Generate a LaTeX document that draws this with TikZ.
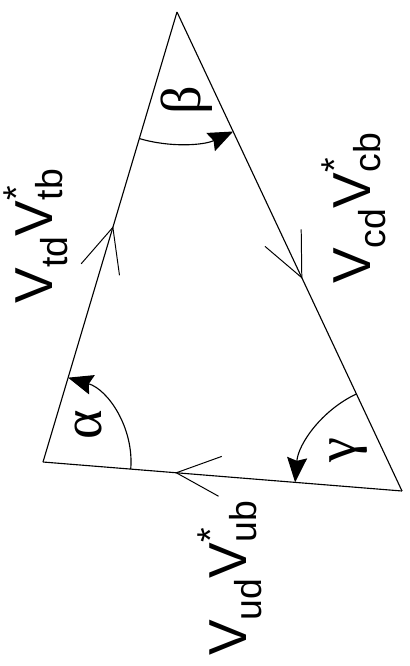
\documentclass[tikz,border=0pt]{standalone}
\usepackage{amsmath}
\usepackage{fontspec}
\setmainfont{Liberation Sans}
\newfontfamily\greekfont{Liberation Serif}
\usetikzlibrary{angles, arrows.meta, decorations.markings}

\begin{document}
\begin{tikzpicture}[x=0.025cm, y=-0.025cm,
    side/.style={line width=0.8pt},
    flow/.style={side, postaction={decorate}, decoration={markings, mark=at position #1 with {\arrow{Straight Barb[length=1.1cm, width=1.0cm, line width=0.7pt]}}}},
    anglearc/.style={draw, line width=0.8pt, -{Stealth[length=0.62cm, width=0.5cm, inset=0.08cm]}},
    ckm/.style={rotate=90, font=\fontsize{38}{40}\selectfont, inner sep=0pt},
    greek/.style={rotate=90, font=\fontsize{40}{42}\selectfont\greekfont, inner sep=0pt}
]
\useasboundingbox (0,0) rectangle (409,666);

% Corners of the triangle
\coordinate (A) at (43,462);
\coordinate (T) at (177,12);
\coordinate (C) at (402,491);

% Sides, each with its direction
\draw[flow=0.524] (A) -- (T);
\draw[flow=0.557] (T) -- (C);
\draw[flow=0.632] (C) -- (A);

% Angles
\pic[anglearc, angle radius=3.3cm] {angle = A--T--C};
\pic[anglearc, angle radius=2.2cm] {angle = C--A--T};
\pic[anglearc, angle radius=2.68cm] {angle = T--C--A};

\node[greek] (beta) at (187,100) {β};
\node[greek] (alpha) at (89,425) {α};
\node[greek] (gamma) at (349,450) {γ};

% Side labels
\node[ckm] (tdtb) at (36,236) {$\text{V}_{\text{td}}\text{V}^{\text{*}}_{\text{tb}}$};
\node[ckm] (cdcb) at (354,208) {$\text{V}_{\text{cd}}\text{V}^{\text{*}}_{\text{cb}}$};
\node[ckm] (udub) at (230,578) {$\text{V}_{\text{ud}}\text{V}^{\text{*}}_{\text{ub}}$};
\end{tikzpicture}
\end{document}
